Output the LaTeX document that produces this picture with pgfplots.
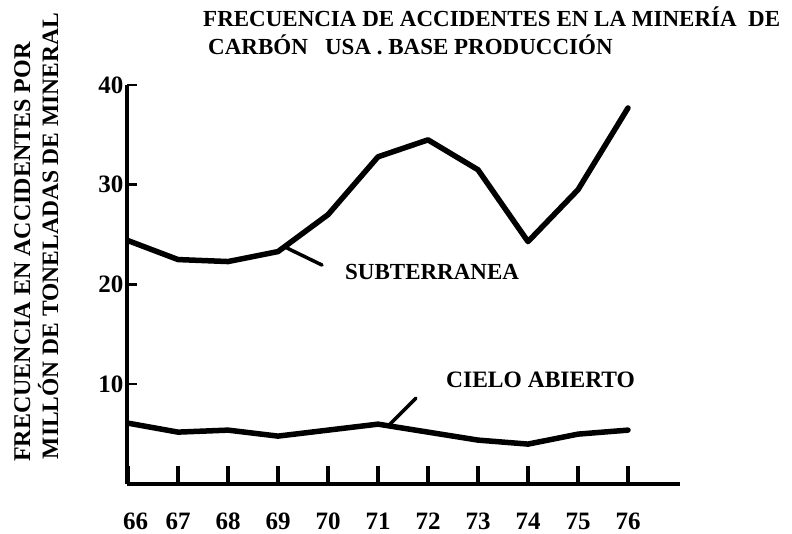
\documentclass[border=0pt]{standalone}
\usepackage{pgfplots}
\pgfplotsset{compat=1.18}
\usepackage{fontspec}
\setmainfont{Liberation Serif}
\pgfplotstableread{
year val
66 24.4
67 22.5
68 22.3
69 23.3
70 27.0
71 32.8
72 34.5
73 31.5
74 24.3
75 29.5
76 37.7
}\subterranea
\pgfplotstableread{
year val
66 6.1
67 5.2
68 5.4
69 4.8
70 5.4
71 6.0
72 5.2
73 4.4
74 4.0
75 5.0
76 5.4
}\cielo
\begin{document}
\begin{tikzpicture}[x=1pt,y=1pt]
\path[use as bounding box] (0,0) rectangle (792,534);
\begin{axis}[
  at={(127pt,50pt)}, anchor=south west,
  width=553pt, height=399pt, scale only axis,
  xmin=65.98, xmax=77.04, ymin=0, ymax=40,
  axis x line=bottom, axis y line=left,
  axis line style={line width=4.5pt, -},
  tick align=inside,
  xtick={66,...,76}, ytick={10,20,30,40},
  xtick style={/pgfplots/major tick length=18pt, line width=3.5pt, black},
  ytick style={/pgfplots/major tick length=10pt, line width=2.5pt, black},
  ticklabel style={font=\fontsize{25}{25}\selectfont\bfseries},
  xticklabel style={anchor=base, yshift=-46pt},
  xticklabel={\ifnum\ticknum=0\hspace{15pt}\fi\pgfmathprintnumber[int detect]{\tick}},
  /pgf/number format/assume math mode=true,
  clip=false,
]
\addplot[black, line width=5.5pt, line join=round, line cap=round] table[x=year,y=val] {\subterranea};
\addplot[black, line width=5.5pt, line join=round, line cap=round] table[x=year,y=val] {\cielo};
\draw[line width=3.5pt, line cap=round] (axis cs:69.12,23.8) -- (axis cs:69.88,21.95);
\draw[line width=3.5pt, line cap=round] (axis cs:71.24,6.0) -- (axis cs:71.76,8.6);
\end{axis}
\node[font=\fontsize{23}{23}\selectfont\bfseries, anchor=base west, inner sep=0pt] at (345,254) {SUBTERRANEA};
\node[font=\fontsize{23.5}{23.5}\selectfont\bfseries, anchor=base west, inner sep=0pt] at (446,146) {CIELO ABIERTO};
\node[font=\fontsize{23}{23}\selectfont\bfseries, anchor=base west, inner sep=0pt] at (203,507) {FRECUENCIA DE ACCIDENTES EN LA MINERÍA\ \ DE};
\node[font=\fontsize{23}{23}\selectfont\bfseries, anchor=base west, inner sep=0pt] at (208,479) {CARBÓN\ \ \ USA . BASE PRODUCCIÓN};
\node[font=\fontsize{24}{24}\selectfont\bfseries, rotate=90, anchor=base, inner sep=0pt] at (30,282) {FRECUENCIA EN ACCIDENTES POR};
\node[font=\fontsize{23.5}{23.5}\selectfont\bfseries, rotate=90, anchor=base, inner sep=0pt] at (58,298) {MILLÓN DE TONELADAS DE MINERAL};
\end{tikzpicture}
\end{document}
